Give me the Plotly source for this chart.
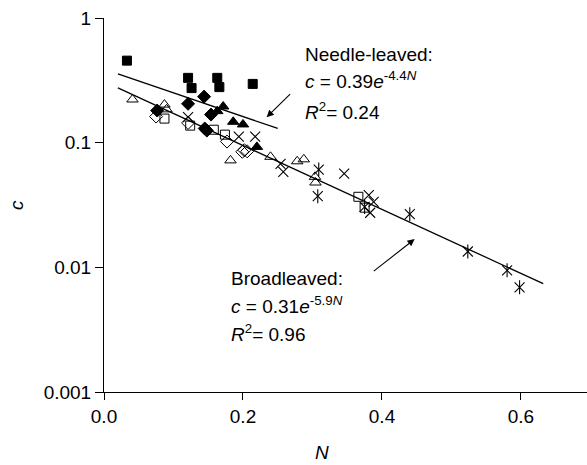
import numpy as np
import plotly.graph_objects as go

# ---- data ----
fsq_N = [0.033, 0.121, 0.126, 0.163, 0.166, 0.214]
fsq_c = [0.455, 0.331, 0.274, 0.331, 0.279, 0.296]

fdi_N = [0.0765, 0.121, 0.144, 0.154, 0.148, 0.145]
fdi_c = [0.181, 0.205, 0.234, 0.168, 0.125, 0.130]

ftr_N = [0.1715, 0.163, 0.186, 0.200, 0.220]
ftr_c = [0.195, 0.179, 0.147, 0.140, 0.0925]

otr_N = [0.041, 0.087, 0.090, 0.182, 0.2396, 0.278, 0.2875, 0.3036, 0.3043]
otr_c = [0.222, 0.202, 0.185, 0.0721, 0.077, 0.0709, 0.0735, 0.0532, 0.0479]

osq_N = [0.087, 0.124, 0.158, 0.174, 0.366, 0.375]
osq_c = [0.156, 0.137, 0.127, 0.116, 0.0368, 0.0301]

odi_N = [0.075, 0.121, 0.177, 0.199, 0.206, 0.202]
odi_c = [0.162, 0.144, 0.102, 0.0845, 0.0852, 0.087]

x_N = [0.121, 0.194, 0.2175, 0.254, 0.258, 0.3456, 0.381, 0.388, 0.383]
x_c = [0.160, 0.112, 0.112, 0.0676, 0.0582, 0.0565, 0.0379, 0.0335, 0.0274]

ast_N = [0.309, 0.3076, 0.375, 0.440, 0.5235, 0.580, 0.598]
ast_c = [0.0608, 0.0372, 0.0305, 0.0267, 0.0134, 0.00946, 0.00692]

needle_fit_N = [0.02, 0.25]
needle_fit_c = [0.357, 0.13]
broad_fit_N = [0.02, 0.632]
broad_fit_c = [0.275, 0.0074]

x_ticks = [0.0, 0.2, 0.4, 0.6]
x_ticklabels = ["0.0", "0.2", "0.4", "0.6"]
y_ticks = [1, 0.1, 0.01, 0.001]
y_ticklabels = ["1", "0.1", "0.01", "0.001"]

FONT = "Liberation Sans, Arial, sans-serif"
FS = 19

fig = go.Figure()

def line(xs, ys):
    fig.add_trace(go.Scatter(x=xs, y=ys, mode="lines",
                             line=dict(color="black", width=1.3),
                             showlegend=False, hoverinfo="skip"))

line(needle_fit_N, needle_fit_c)
line(broad_fit_N, broad_fit_c)

def pts(xs, ys, symbol, size, lw=1.0):
    fig.add_trace(go.Scatter(x=xs, y=ys, mode="markers", showlegend=False,
                             marker=dict(symbol=symbol, size=size, color="black",
                                         line=dict(color="black", width=lw))))

pts(otr_N, otr_c, "triangle-up-open", 10)
pts(osq_N, osq_c, "square-open", 9)
pts(odi_N, odi_c, "diamond-open", 10)
pts(x_N, x_c, "x-thin-open", 10, 1.1)
pts(ast_N, ast_c, "x-thin-open", 10, 1.1)
pts(ast_N, ast_c, "line-ns-open", 10, 1.1)
pts(fsq_N, fsq_c, "square", 9)
pts(fdi_N, fdi_c, "diamond", 10)
pts(ftr_N, ftr_c, "triangle-up", 10)

ann = []
def text(x, y, t):
    ann.append(dict(x=x, y=np.log10(y), xref="x", yref="y", text=t, showarrow=False,
                    xanchor="left", yanchor="middle",
                    font=dict(family=FONT, size=FS, color="black")))

text(0.286, 0.5086, "Needle-leaved:")
text(0.286, 0.32, "<i>c</i> = 0.39<i>e</i><sup>-4.4<i>N</i></sup>")
text(0.286, 0.179, "<i>R</i><sup>2</sup>= 0.24")
text(0.1796, 0.0082, "Broadleaved:")
text(0.1796, 0.0050, "<i>c</i> = 0.31<i>e</i><sup>-5.9<i>N</i></sup>")
text(0.1796, 0.00298, "<i>R</i><sup>2</sup>= 0.96")

def arrow(tx, ty, hx, hy):
    ann.append(dict(x=hx, y=np.log10(hy), xref="x", yref="y",
                    ax=tx, ay=np.log10(ty), axref="x", ayref="y",
                    showarrow=True, arrowhead=2, arrowsize=1.3, arrowwidth=1.1,
                    arrowcolor="black", text=""))

arrow(0.270, 0.252, 0.234, 0.160)
arrow(0.386, 0.00912, 0.447, 0.01684)

ann.append(dict(x=-0.182, y=0.5, xref="paper", yref="paper", text="<i>c</i>",
                showarrow=False, textangle=-90, xanchor="center", yanchor="middle",
                font=dict(family=FONT, size=FS, color="black")))
ann.append(dict(x=0.451, y=-0.163, xref="paper", yref="paper", text="<i>N</i>",
                showarrow=False, xanchor="center", yanchor="middle",
                font=dict(family=FONT, size=FS, color="black")))

fig.update_layout(
    width=587, height=465,
    margin=dict(l=104, r=0, t=18, b=73),
    paper_bgcolor="white", plot_bgcolor="white",
    font=dict(family=FONT, size=FS, color="black"),
    annotations=ann,
    xaxis=dict(range=[0, 0.695], showgrid=False, zeroline=False, showline=True,
               linecolor="black", linewidth=1, ticks="outside", ticklen=7,
               tickcolor="black", tickvals=x_ticks, ticktext=x_ticklabels,
               tickfont=dict(family=FONT, size=FS)),
    yaxis=dict(type="log", range=[-3, 0], showgrid=False, zeroline=False, showline=True,
               linecolor="black", linewidth=1, ticks="outside", ticklen=8,
               tickcolor="black", tickvals=y_ticks, ticktext=y_ticklabels,
               tickfont=dict(family=FONT, size=FS)),
)

fig.write_html("out.html")
